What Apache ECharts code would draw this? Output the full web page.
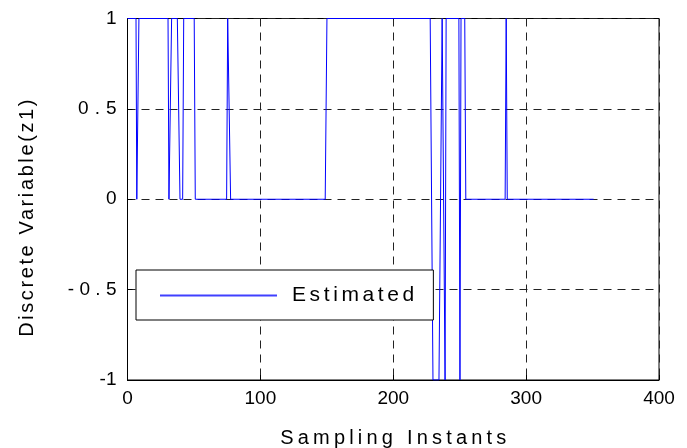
<!DOCTYPE html>
<html>
<head>
<meta charset="utf-8">
<script src="https://cdn.jsdelivr.net/npm/echarts@6/dist/echarts.min.js"></script>
<style>
html,body{margin:0;padding:0;background:#fff;}
#c{width:687px;height:448px;}
</style>
</head>
<body>
<div id="c"></div>
<script>
// Sampling instant (x) and estimated discrete variable z1 (y), read at the corners of the trace
const sampleX = [0, 6.4, 7, 8, 8.6, 30.5, 31.2, 32.5, 33.2, 37.5, 39.5, 41.5, 42.3, 50.2, 51,
  74.6, 75.4, 76.9, 77.6, 148.8, 150.1, 227.8, 229.9, 234.4, 236.8, 238.2, 239, 239.8,
  249.4, 250.2, 251, 253.8, 254.6, 284.2, 285, 285.8, 350.8];
const estimated = [1, 1, 0, 0, 1, 1, 0, 0, 1, 1, 0, 0, 1, 1, 0,
  0, 1, 1, 0, 0, 1, 1, -1, -1, 1, 1, -1, 1,
  1, -1, 1, 1, 0, 0, 1, 0, 0];
const xTicks = [0, 100, 200, 300, 400];
const yTicks = [-1, -0.5, 0, 0.5, 1];
const seriesName = 'Estimated';
const xName = 'Sampling Instants';
const yName = 'Discrete Variable(z1)';

// The reference text is set wider than the font's natural advance; reproduce with letter spacing.
const SPACING = {};
SPACING[xName] = 4.2;
SPACING[yName] = 2.6;
SPACING[seriesName] = 3.6;
SPACING['0.5'] = 6;
SPACING['-0.5'] = 5.3;
const origFill = CanvasRenderingContext2D.prototype.fillText;
CanvasRenderingContext2D.prototype.fillText = function (t, x, y, mw) {
  const s = SPACING[t] || 0;
  if (!s || !('letterSpacing' in this)) {
    return mw === undefined ? origFill.call(this, t, x, y) : origFill.call(this, t, x, y, mw);
  }
  this.save();
  this.letterSpacing = s + 'px';
  const a = this.textAlign;
  if (a === 'right' || a === 'end') x += s;
  else if (a === 'center') x += s / 2;
  const r = mw === undefined ? origFill.call(this, t, x, y) : origFill.call(this, t, x, y, mw);
  this.restore();
  return r;
};

const FONT = "'Liberation Sans', Arial, sans-serif";
const LEGEND_BLUE = '#4040ff';
const chart = echarts.init(document.getElementById('c'), null, {renderer: 'canvas'});
const pts = sampleX.map((x, i) => [x, estimated[i]]);
const gridDash = {type: [8, 6], color: '#222', width: 1};
chart.setOption({
  animation: false,
  backgroundColor: '#fff',
  grid: {left: 127.5, right: 28, top: 18.5, bottom: 68, outerBoundsMode: 'none', containLabel: false,
    show: true, borderColor: '#000', borderWidth: 1, backgroundColor: '#fff'},
  xAxis: {
    type: 'value', min: xTicks[0], max: xTicks[xTicks.length - 1], interval: 100,
    name: xName, nameLocation: 'middle', nameGap: 48,
    nameTextStyle: {fontFamily: FONT, fontSize: 20, color: '#000'},
    axisLine: {show: true, onZero: false, lineStyle: {color: '#000'}},
    axisTick: {show: true, inside: true, length: 5, lineStyle: {color: '#000'}},
    axisLabel: {fontFamily: FONT, fontSize: 19, color: '#000', margin: 9},
    splitLine: {show: true, lineStyle: gridDash}
  },
  yAxis: {
    type: 'value', min: yTicks[0], max: yTicks[yTicks.length - 1], interval: 0.5,
    name: yName, nameLocation: 'middle', nameGap: 90,
    nameTextStyle: {fontFamily: FONT, fontSize: 20, color: '#000', padding: [0, 38, 0, 0]},
    axisLine: {show: true, onZero: false, lineStyle: {color: '#000'}},
    axisTick: {show: true, inside: true, length: 5, lineStyle: {color: '#000'}},
    axisLabel: {fontFamily: FONT, fontSize: 19, color: '#000', margin: 11},
    splitLine: {show: true, lineStyle: gridDash}
  },
  legend: {
    show: true, left: 136, top: 270, orient: 'horizontal',
    padding: [15, 48, 14, 24],
    backgroundColor: '#fff', borderColor: '#000', borderWidth: 1,
    itemWidth: 117, itemHeight: 2,
    icon: 'rect',
    itemStyle: {color: LEGEND_BLUE, borderWidth: 0, opacity: 1},
    lineStyle: {color: LEGEND_BLUE, width: 1, opacity: 1},
    textStyle: {fontFamily: FONT, fontSize: 21, color: '#000', padding: [0, 0, 0, 10]},
    data: [{name: seriesName, icon: 'rect', itemStyle: {color: LEGEND_BLUE}, lineStyle: {color: LEGEND_BLUE}}]
  },
  series: [{
    name: seriesName, type: 'line', data: pts,
    symbol: 'none', showSymbol: false,
    lineStyle: {color: '#0000ff', width: 1},
    itemStyle: {color: '#0000ff'},
    z: 3
  }]
});
</script>
</body>
</html>
